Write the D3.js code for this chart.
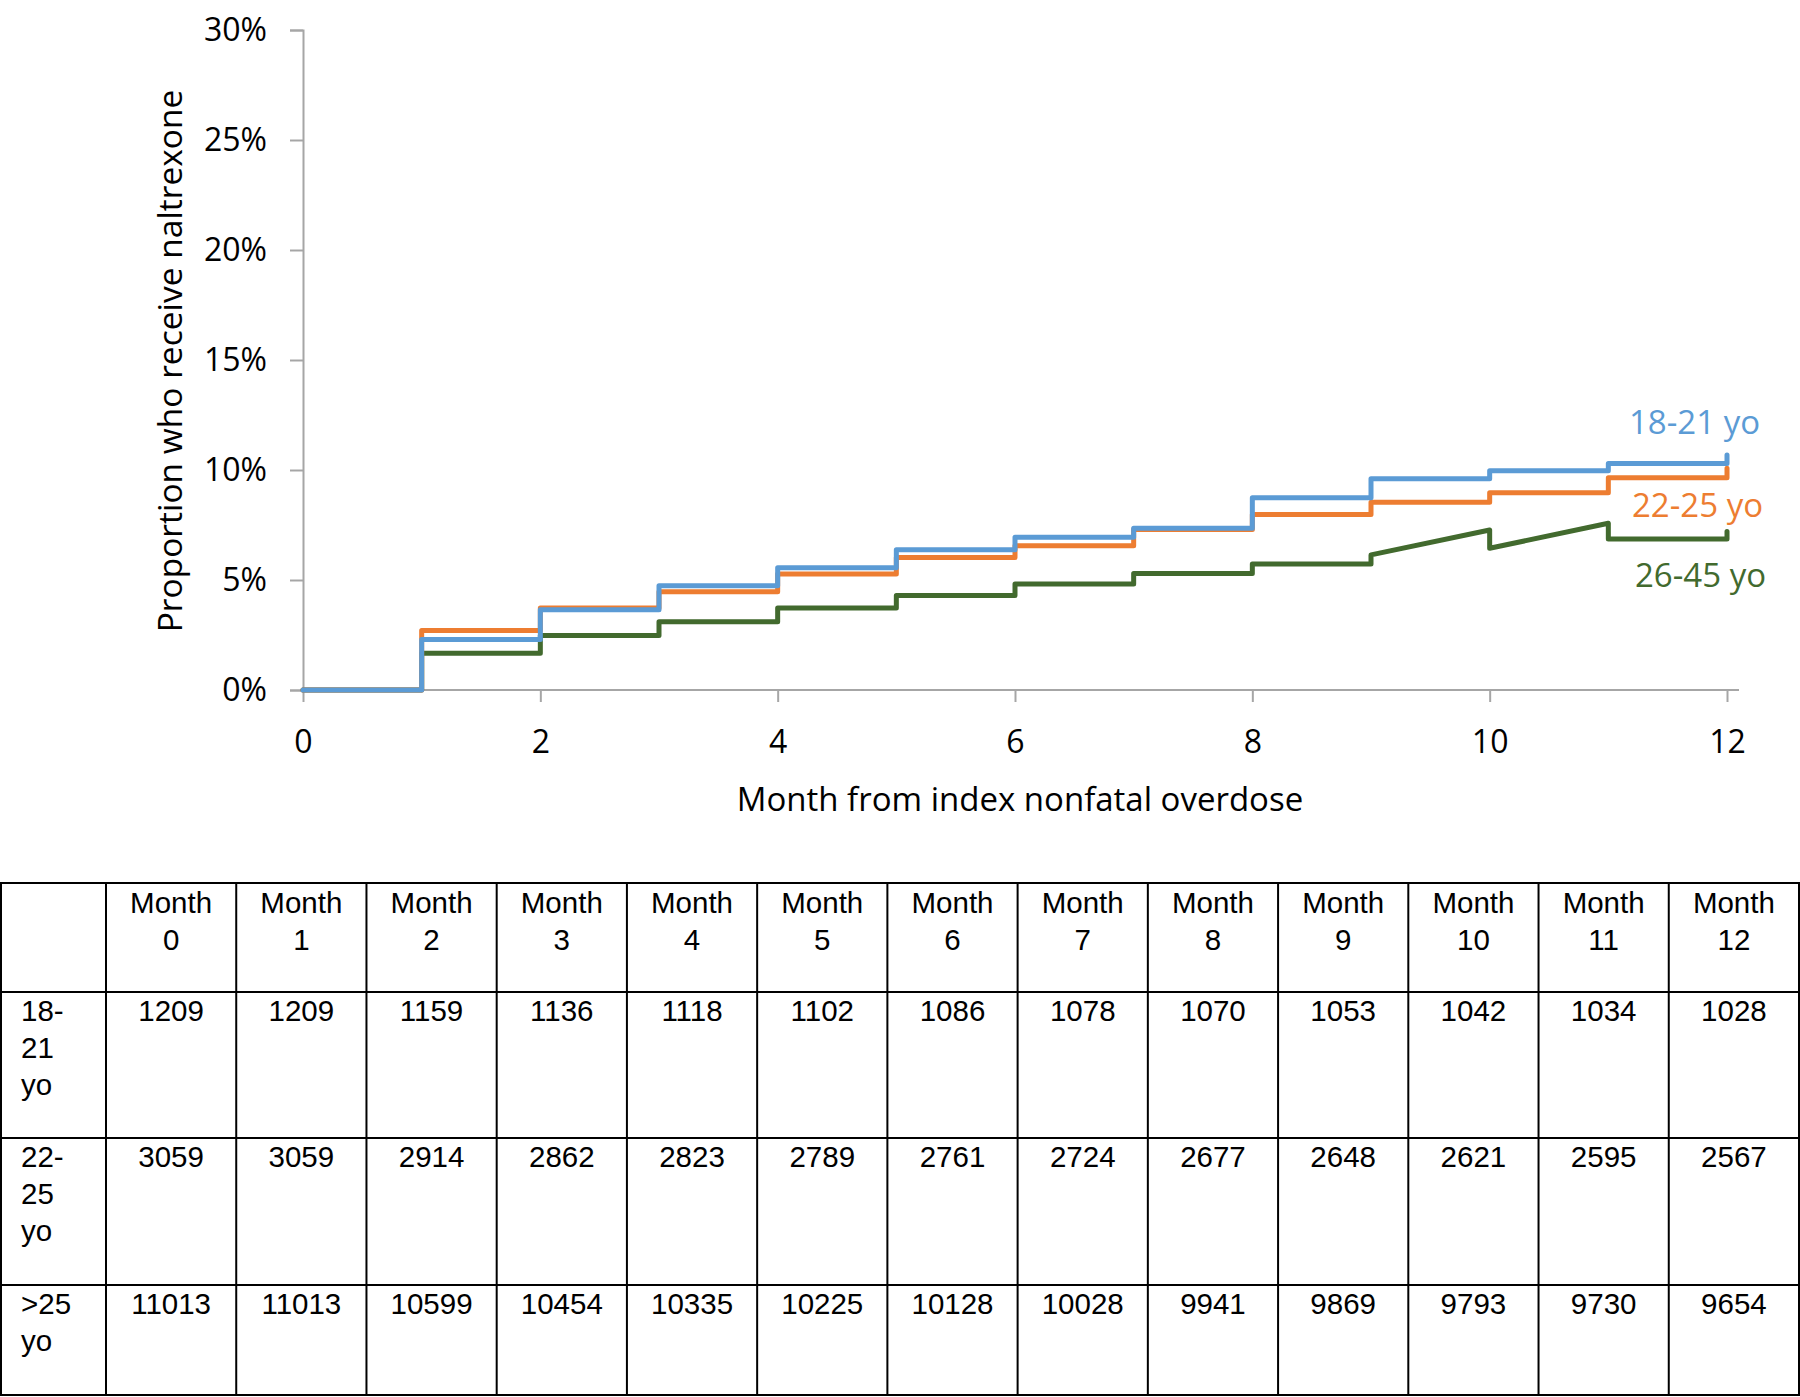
<!DOCTYPE html>
<html lang="en">
<head>
  <meta charset="UTF-8">
  <title>Naltrexone after nonfatal overdose</title>
  <script src="https://d3js.org/d3.v7.min.js"></script>
  <style>
    body { margin: 0; background: #fff; }
    text { font-family: "Open Sans", sans-serif; }
    .tbl text { font-family: "Liberation Sans", Arial, sans-serif; font-size: 29.5px; fill: #000; }
  </style>
</head>
<body>
<div id="chart"></div>
<script>
// Curve vertices (month, percent)
const stepMonths = [0,1,1,2,2,3,3,4,4,5,5,6,6,7,7,8,8,9,9,10,10,11,11,12,12];
const pct1821 = [0,0,2.30,2.30,3.65,3.65,4.74,4.74,5.56,5.56,6.38,6.38,6.94,6.94,7.35,7.35,8.74,8.74,9.60,9.60,9.97,9.97,10.30,10.30,10.68];
const pct2225 = [0,0,2.70,2.70,3.73,3.73,4.47,4.47,5.27,5.27,6.02,6.02,6.56,6.56,7.30,7.30,7.98,7.98,8.53,8.53,8.97,8.97,9.65,9.65,10.08];
const pct2645 = [0,0,1.67,1.67,2.48,2.48,3.10,3.10,3.73,3.73,4.30,4.30,4.82,4.82,5.30,5.30,5.73,5.73,6.14,7.27,6.44,7.58,6.86,6.86,7.20];

const seriesNames = ["26-45 yo", "22-25 yo", "18-21 yo"];
const seriesColors = ["#426A2E", "#ED7D31", "#5B9BD5"];

const yTicks = [0, 5, 10, 15, 20, 25, 30];
const xTicks = [0, 2, 4, 6, 8, 10, 12];

// Number at risk table
const tableMonths = [0,1,2,3,4,5,6,7,8,9,10,11,12];
const rowLabels = [["18-", "21", "yo"], ["22-", "25", "yo"], [">25", "yo"]];
const atRisk1821 = [1209,1209,1159,1136,1118,1102,1086,1078,1070,1053,1042,1034,1028];
const atRisk2225 = [3059,3059,2914,2862,2823,2789,2761,2724,2677,2648,2621,2595,2567];
const atRiskOver25 = [11013,11013,10599,10454,10335,10225,10128,10028,9941,9869,9793,9730,9654];

const W = 1800, H = 1397;
const svg = d3.select("#chart").append("svg")
  .attr("width", W).attr("height", H);

// scales
const x = d3.scaleLinear().domain([0, 12]).range([303, 1727]);
const y = d3.scaleLinear().domain([0, 30]).range([690, 30]);

// axes
const axisColor = "#A6A6A6";
const yAxis = svg.append("g").attr("transform", `translate(${x(0)},0)`)
  .call(d3.axisLeft(y).tickValues(yTicks).tickSize(13).tickFormat(d => d + "%"));
yAxis.select(".domain").attr("stroke", axisColor).attr("stroke-width", 2);
yAxis.selectAll(".tick line").attr("stroke", axisColor).attr("stroke-width", 2);
yAxis.selectAll(".tick text").attr("x", -36).attr("font-size", 32)
  .attr("font-family", "Open Sans").attr("fill", "#000");

const xAxis = svg.append("g").attr("transform", `translate(0,${y(0)})`)
  .call(d3.axisBottom(x).tickValues(xTicks).tickSize(12).tickSizeOuter(0));
xAxis.select(".domain").attr("stroke", axisColor).attr("stroke-width", 2)
  .attr("d", `M${x(0)},0H${x(12) + 12}`);
xAxis.selectAll(".tick line").attr("stroke", axisColor).attr("stroke-width", 2);
xAxis.selectAll(".tick text").attr("y", 50).attr("dy", "0").attr("font-size", 32)
  .attr("font-family", "Open Sans").attr("fill", "#000").attr("dominant-baseline", "central");

// axis titles
svg.append("text")
  .attr("x", 1020).attr("y", 798)
  .attr("text-anchor", "middle").attr("dominant-baseline", "central")
  .attr("font-size", 33).text("Month from index nonfatal overdose");

svg.append("text")
  .attr("transform", "translate(169,361) rotate(-90)")
  .attr("text-anchor", "middle").attr("dominant-baseline", "central")
  .attr("font-size", 33.5).text("Proportion who receive naltrexone");

// curves
const line = d3.line().x(d => x(d[0])).y(d => y(d[1]));
const curves = [pct2645, pct2225, pct1821];
curves.forEach((vals, i) => {
  svg.append("path")
    .datum(stepMonths.map((m, j) => [m, vals[j]]))
    .attr("d", line)
    .attr("fill", "none")
    .attr("stroke", seriesColors[i])
    .attr("stroke-width", 5)
    .attr("stroke-linejoin", "round")
    .attr("stroke-linecap", "round");
});

// series labels
const labelPos = [[1635, 587], [1632, 517], [1629, 434]];
seriesNames.forEach((name, i) => {
  svg.append("text")
    .attr("x", labelPos[i][0]).attr("y", labelPos[i][1])
    .attr("font-size", 33).attr("fill", seriesColors[i])
    .text(name);
});

// table
const tbl = svg.append("g").attr("class", "tbl");
const col = d3.scaleBand().domain(tableMonths).range([106, 1799]);
const rowTops = [883, 992, 1138, 1285, 1395];
const lineH = 37;

// grid lines
tbl.append("rect")
  .attr("x", 1).attr("y", rowTops[0])
  .attr("width", 1798).attr("height", rowTops[4] - rowTops[0])
  .attr("fill", "none").attr("stroke", "#000").attr("stroke-width", 2);
tableMonths.forEach(m => {
  tbl.append("line")
    .attr("x1", col(m)).attr("x2", col(m))
    .attr("y1", rowTops[0]).attr("y2", rowTops[4])
    .attr("stroke", "#000").attr("stroke-width", 2);
});
rowTops.slice(1, 4).forEach(t => {
  tbl.append("line")
    .attr("x1", 1).attr("x2", 1799)
    .attr("y1", t).attr("y2", t)
    .attr("stroke", "#000").attr("stroke-width", 2);
});

// header
tableMonths.forEach(m => {
  const cx = col(m) + col.bandwidth() / 2;
  tbl.append("text").attr("x", cx).attr("y", rowTops[0] + 30)
    .attr("text-anchor", "middle").text("Month");
  tbl.append("text").attr("x", cx).attr("y", rowTops[0] + 30 + lineH)
    .attr("text-anchor", "middle").text(m);
});

// body rows
const rows = [atRisk1821, atRisk2225, atRiskOver25];
rows.forEach((vals, r) => {
  const base = rowTops[r + 1] + 29;
  rowLabels[r].forEach((s, k) => {
    tbl.append("text").attr("x", 21).attr("y", base + k * lineH).text(s);
  });
  vals.forEach((v, j) => {
    tbl.append("text")
      .attr("x", col(tableMonths[j]) + col.bandwidth() / 2)
      .attr("y", base)
      .attr("text-anchor", "middle").text(v);
  });
});
</script>
</body>
</html>
